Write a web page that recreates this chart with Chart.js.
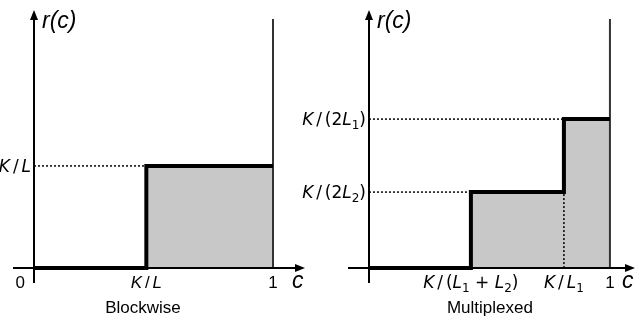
<!DOCTYPE html>
<html><head><meta charset="utf-8">
<script src="https://cdn.jsdelivr.net/npm/chart.js@4/dist/chart.umd.min.js"></script>
<style>
html,body{margin:0;padding:0;background:#fff;}
#wrap{position:relative;width:640px;height:320px;overflow:hidden;background:#fff;}
canvas{position:absolute;top:0;}
</style></head><body>
<div id="wrap">
<canvas id="blockwise" width="320" height="320" style="left:0"></canvas>
<canvas id="multiplexed" width="360" height="320" style="left:280px"></canvas>
</div>
<script>
// ---- Blockwise panel ----
const blockwiseEdges = [0, 0.47, 1];          // c at which r(c) takes each value
const blockwiseRates = [0, 0.41, 0.41];       // r(c) values
const blockwiseXTicks = [0, 0.47, 1];
const blockwiseXLabels = ['0', 'K/L', '1'];
const blockwiseYTicks = [0.41];
const blockwiseYLabels = ['K/L'];

// ---- Multiplexed panel ----
const multiplexedEdges = [0, 0.423, 0.809, 1];
const multiplexedRates = [0, 0.305, 0.598, 0.598];
const multiplexedXTicks = [0.423, 0.809, 1];
const multiplexedXLabels = ['K/(L₁ + L₂)', 'K/L₁', '1'];
const multiplexedYTicks = [0.598, 0.305];
const multiplexedYLabels = ['K/(2L₁)', 'K/(2L₂)'];

const panelTitles = ['Blockwise', 'Multiplexed'];
const axisNames = ['r(c)', 'c'];
const capacityMax = 1;
const capacityTop = 1;

function mathTokens(str){
  const out = [];
  for (const ch of str){
    if (ch === '₁' || ch === '₂') out.push({t: ch === '₁' ? '1' : '2', sub: true});
    else if (/[A-Za-z]/.test(ch)) out.push({t: ch, it: true});
    else if (ch === '/') out.push({t: '/', slash: true});
    else out.push({t: ch});
  }
  return out;
}
function drawMath(ctx, str, x, y, size, family, align){
  const toks = mathTokens(str);
  const fontFor = tk => (tk.it ? 'italic ' : '') + Math.round(tk.sub ? size * 0.72 : size) + 'px "' + family + '"';
  const gap = size * 0.17;
  let w = 0; const widths = [];
  toks.forEach(tk => { ctx.font = fontFor(tk); let tw = ctx.measureText(tk.t).width; if (tk.slash) tw += 2 * gap; widths.push(tw); w += tw; });
  let cx = align === 'right' ? x - w : align === 'center' ? x - w / 2 : x;
  ctx.textAlign = 'left'; ctx.textBaseline = 'alphabetic';
  toks.forEach((tk, i) => { ctx.font = fontFor(tk); ctx.fillText(tk.t, cx + (tk.slash ? gap : 0), y + (tk.sub ? size * 0.22 : 0)); cx += widths[i]; });
}

const decorPlugin = {
  id: 'decor',
  afterDatasetsDraw(chart, args, o){
    const ctx = chart.ctx, xs = chart.scales.x, ys = chart.scales.y;
    const x0 = Math.round(xs.getPixelForValue(0)), y0 = Math.round(ys.getPixelForValue(0));
    const xL = xs.getPixelForValue(xs.min), xR = xs.getPixelForValue(xs.max);
    const yB = ys.getPixelForValue(ys.min), yT = ys.getPixelForValue(ys.max);
    ctx.save();
    ctx.strokeStyle = '#000'; ctx.fillStyle = '#000'; ctx.lineWidth = 2;
    ctx.beginPath(); ctx.moveTo(xL, y0); ctx.lineTo(xR - 6, y0); ctx.stroke();
    ctx.beginPath(); ctx.moveTo(xR, y0); ctx.lineTo(xR - 10, y0 - 4); ctx.lineTo(xR - 10, y0 + 4); ctx.closePath(); ctx.fill();
    ctx.beginPath(); ctx.moveTo(x0, yB); ctx.lineTo(x0, yT + 6); ctx.stroke();
    ctx.beginPath(); ctx.moveTo(x0, yT); ctx.lineTo(x0 - 4, yT + 10); ctx.lineTo(x0 + 4, yT + 10); ctx.closePath(); ctx.fill();

    // x tick labels
    o.xTicks.forEach((v, i) => {
      const s = o.xLabels[i];
      const fam = /[A-Za-z]/.test(s) ? o.xFamily : 'Liberation Sans';
      if (v === 0) drawMath(ctx, s, x0 - 9, y0 + 20, 17, fam, 'right');
      else drawMath(ctx, s, xs.getPixelForValue(v), y0 + 20, 17, fam, 'center');
    });
    // y tick labels
    o.yTicks.forEach((v, i) => {
      drawMath(ctx, o.yLabels[i], x0 - 3, ys.getPixelForValue(v) + 6, 17, 'DejaVu Sans', 'right');
    });
    // axis names
    ctx.font = 'italic 23px "Liberation Sans"'; ctx.textAlign = 'left'; ctx.textBaseline = 'alphabetic';
    ctx.fillText(axisNames[0], x0 + 8, yT + 18);
    ctx.fillText(axisNames[1], xR - 13, y0 + 20);
    // caption
    ctx.font = '17px "Liberation Sans"'; ctx.textAlign = 'center';
    ctx.fillText(o.title, xs.getPixelForValue(o.titleAt), 313);
    ctx.restore();
  }
};

function buildPanel(id, edges, rates, xTicks, xLabels, yTicks, yLabels, title, cfg){
  const datasets = [];
  datasets.push({
    data: edges.map((c, i) => ({x: c, y: rates[i]})),
    stepped: 'before', borderColor: '#000', borderWidth: 4,
    backgroundColor: '#c8c8c8', fill: 'origin', pointRadius: 0,
    borderJoinStyle: 'miter', borderCapStyle: 'butt'
  });
  // capacity wall at c = 1
  datasets.push({
    data: [{x: capacityMax, y: 0}, {x: capacityMax, y: capacityTop}],
    borderColor: '#333', borderWidth: 2, pointRadius: 0, fill: false
  });
  // dotted guides
  yTicks.forEach(level => {
    const idx = rates.findIndex(r => r === level);
    datasets.push({
      data: [{x: 0, y: level}, {x: edges[idx], y: level}],
      borderColor: '#000', borderWidth: 1.5, borderDash: [2, 2], pointRadius: 0, fill: false
    });
  });
  for (let i = 1; i < edges.length - 1; i++){
    if (rates[i - 1] > 0 && rates[i] !== rates[i - 1]){
      datasets.push({
        data: [{x: edges[i], y: 0}, {x: edges[i], y: rates[i - 1]}],
        borderColor: '#000', borderWidth: 1.5, borderDash: [2, 2], pointRadius: 0, fill: false
      });
    }
  }
  new Chart(document.getElementById(id), {
    type: 'line',
    data: {datasets},
    plugins: [decorPlugin],
    options: {
      responsive: false, animation: false, devicePixelRatio: 1,
      layout: {padding: cfg.padding},
      scales: {
        x: {type: 'linear', min: cfg.xMin, max: cfg.xMax, display: false},
        y: {type: 'linear', min: -0.06, max: 1.036, display: false}
      },
      elements: {line: {tension: 0}},
      plugins: {
        legend: {display: false}, tooltip: {enabled: false},
        filler: {drawTime: 'beforeDatasetsDraw'},
        decor: {xTicks, xLabels, yTicks, yLabels, title, titleAt: cfg.titleAt, xFamily: cfg.xFamily}
      }
    }
  });
}

buildPanel('blockwise', blockwiseEdges, blockwiseRates, blockwiseXTicks, blockwiseXLabels,
  blockwiseYTicks, blockwiseYLabels, panelTitles[0],
  {padding: {left: 13, right: 15, top: 10, bottom: 37}, xMin: -0.088, xMax: 1.134, titleAt: 0.456, xFamily: 'Liberation Sans'});
buildPanel('multiplexed', multiplexedEdges, multiplexedRates, multiplexedXTicks, multiplexedXLabels,
  multiplexedYTicks, multiplexedYLabels, panelTitles[1],
  {padding: {left: 68, right: 5, top: 10, bottom: 37}, xMin: -0.087, xMax: 1.104, titleAt: 0.502, xFamily: 'DejaVu Sans'});
</script>
</body></html>
